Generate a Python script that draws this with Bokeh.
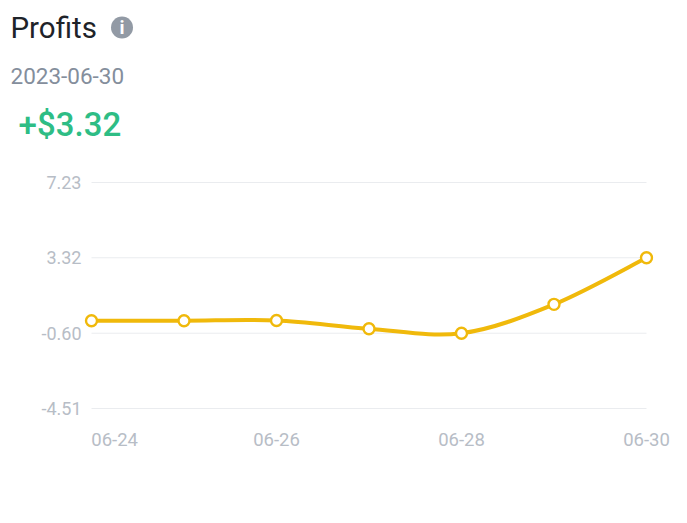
from bokeh.plotting import figure
from bokeh.embed import file_html
from bokeh.resources import INLINE
from bokeh.models import Range1d, FixedTicker, Label, BoxAnnotation

days = [0, 1, 2, 3, 4, 5, 6]
profits = [0.05, 0.05, 0.06, -0.37, -0.60, 0.90, 3.32]
y_ticks = [-4.51, -0.60, 3.32, 7.23]
y_labels = ["-4.51", "-0.60", "3.32", "7.23"]
x_ticks = [0.25, 2, 4, 6]
x_labels = ["06-24", "06-26", "06-28", "06-30"]

FONT = "Roboto"
W, H = 680, 515
# frame in page pixels: it spans the heading too, because annotations are clipped to it
FL, FR, FT, FB = 5, 653, 0, 414
PX = 92.5          # pixels per day
PY = 226 / 11.74   # pixels per unit

p = figure(width=W, height=H, output_backend="svg", toolbar_location=None,
           x_range=Range1d(-(91 - FL) / PX, 6 + (FR - 646) / PX),
           y_range=Range1d(-4.51 - (FB - 408) / PY, 7.23 + (182 - FT) / PY),
           min_border_left=FL, min_border_right=W - FR, min_border_top=FT, min_border_bottom=H - FB)
p.outline_line_color = None
p.background_fill_color = "white"
p.xgrid.visible = False
p.ygrid.visible = False

for ax in (p.xaxis[0], p.yaxis[0]):
    ax.axis_line_color = None
    ax.major_tick_line_color = None
    ax.minor_tick_line_color = None
    ax.major_label_text_color = "#b7bdc6"
    ax.major_label_text_font = FONT
p.yaxis[0].major_label_text_font_size = "18px"
p.xaxis[0].major_label_text_font_size = "18.5px"
p.yaxis[0].ticker = FixedTicker(ticks=y_ticks)
p.yaxis[0].major_label_overrides = dict(zip(y_ticks, y_labels))
p.yaxis[0].major_label_standoff = -82
p.xaxis[0].ticker = FixedTicker(ticks=x_ticks)
p.xaxis[0].major_label_overrides = dict(zip(x_ticks, x_labels))
p.xaxis[0].major_label_standoff = 12

p.segment([days[0]] * len(y_ticks), y_ticks, [days[-1]] * len(y_ticks), y_ticks,
          line_color="#eaecef", line_width=1)

# smooth curve: cubic segments with control points derived from the data
k = 1 / 6
n = len(days)
def pick(a, i):
    return a[max(0, min(n - 1, i))]
x0 = days[:-1]; y0 = profits[:-1]; x1 = days[1:]; y1 = profits[1:]
cx0 = [days[i] + k * (pick(days, i + 1) - pick(days, i - 1)) for i in range(n - 1)]
cy0 = [profits[i] + k * (pick(profits, i + 1) - pick(profits, i - 1)) for i in range(n - 1)]
cx1 = [days[i + 1] - k * (pick(days, i + 2) - pick(days, i)) for i in range(n - 1)]
cy1 = [profits[i + 1] - k * (pick(profits, i + 2) - pick(profits, i)) for i in range(n - 1)]
p.bezier(x0, y0, x1, y1, cx0, cy0, cx1, cy1, line_color="#f0b90b", line_width=4, line_cap="round")
p.scatter(days, profits, marker="circle", size=11, fill_color="white",
          line_color="#f0b90b", line_width=2.4)

# screen units of annotations count from the frame's left and bottom edges
def put(text, x, y, size, color, weight="normal", align="left", font=FONT):
    p.add_layout(Label(x=x - FL, y=FB - y, x_units="screen", y_units="screen", text=text,
                       text_font=font, text_font_size=size, text_color=color,
                       text_font_style=weight, text_align=align, text_baseline="middle"))

put("Profits", 10, 27, "29.5px", "#1e2329")
put("2023-06-30", 10, 75, "22.5px", "#848e9c")
put("+$3.32", 18, 124, "33px", "#2ebd85", "normal", "left", "Roboto Medium")
p.add_layout(BoxAnnotation(left=110.5 - FL, right=132.5 - FL, top=FB - 16, bottom=FB - 38,
                           left_units="screen", right_units="screen", top_units="screen", bottom_units="screen",
                           fill_color="#929aa5", fill_alpha=1, line_color=None, border_radius=11))
put("i", 121.5, 27, "19px", "white", "bold", "center")

open("out.html", "w").write(file_html(p, INLINE))
